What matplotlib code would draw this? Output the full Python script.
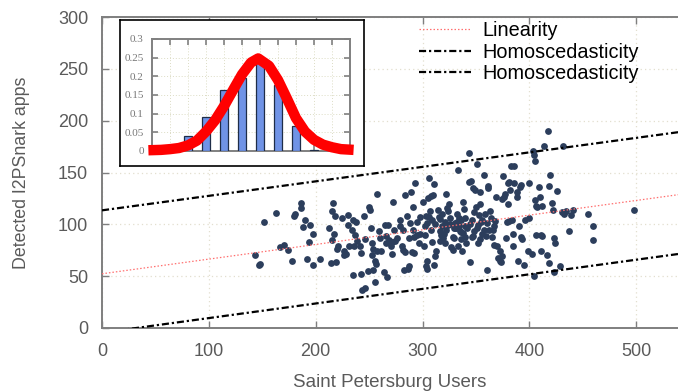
import matplotlib
matplotlib.use("Agg")
import matplotlib.pyplot as plt
import numpy as np

plt.rcParams['font.family'] = ['Liberation Sans', 'DejaVu Sans']

# ---------------- data ----------------
users = [143, 147, 148, 152, 163, 167, 170, 174, 178, 180, 181, 186, 186, 188, 190, 192, 194, 195, 197, 197,
         204, 212, 214, 215, 215, 216, 217, 218, 219, 220, 221, 225, 226, 226, 228, 230, 230, 231, 234, 235,
         235, 236, 237, 238, 239, 241, 242, 242, 243, 245, 246, 246, 249, 250, 251, 252, 253, 253, 254, 254,
         255, 255, 256, 257, 257, 259, 260, 261, 264, 265, 266, 266, 267, 268, 269, 270, 271, 271, 272, 273,
         274, 276, 279, 279, 281, 282, 282, 283, 284, 284, 285, 286, 287, 287, 288, 289, 290, 291, 291, 292,
         292, 293, 295, 295, 297, 298, 298, 300, 301, 302, 302, 303, 303, 304, 304, 305, 306, 306, 307, 308,
         309, 309, 310, 311, 311, 312, 313, 314, 315, 316, 316, 317, 318, 319, 320, 321, 321, 322, 323, 324,
         324, 325, 326, 327, 328, 329, 329, 330, 331, 332, 333, 333, 334, 335, 336, 336, 337, 338, 339, 340,
         340, 341, 343, 343, 344, 345, 346, 347, 347, 348, 349, 350, 351, 351, 352, 353, 354, 354, 355, 356,
         357, 357, 358, 359, 360, 361, 361, 362, 363, 365, 366, 367, 367, 369, 370, 371, 372, 372, 373, 374,
         374, 375, 376, 377, 378, 379, 380, 380, 381, 381, 382, 383, 384, 385, 385, 386, 386, 388, 388, 389,
         390, 391, 392, 392, 393, 395, 396, 399, 400, 400, 402, 403, 404, 404, 405, 405, 406, 406, 407, 409,
         410, 411, 411, 412, 412, 414, 416, 417, 418, 418, 419, 421, 422, 423, 423, 424, 426, 429, 430, 431,
         432, 434, 437, 439, 441, 455, 459, 459, 498,
         318, 322, 326, 330, 334, 338, 342, 344, 348, 352, 356, 360, 312, 308, 304, 328, 336, 346, 354, 340,
         332, 316, 364, 368]
apps = [70, 61, 62, 102, 111, 78, 80, 75, 65, 108, 110, 121, 116, 97, 104, 67, 83, 99, 91, 61,
        67, 96, 63, 85, 113, 121, 91, 108, 64, 76, 79, 106, 74, 70, 71, 109, 99, 79, 95, 104,
        51, 79, 90, 102, 84, 79, 72, 52, 37, 108, 86, 39, 55, 117, 114, 96, 70, 82, 76, 56,
        44, 65, 62, 129, 74, 94, 87, 74, 54, 99, 82, 89, 49, 99, 85, 79, 71, 83, 122, 95,
        84, 87, 98, 104, 79, 95, 75, 56, 128, 73, 108, 57, 87, 60, 101, 131, 73, 95, 117, 88,
        72, 140, 102, 90, 82, 91, 107, 122, 79, 98, 90, 60, 108, 65, 57, 125, 145, 107, 113, 127,
        104, 83, 128, 61, 139, 69, 74, 114, 107, 105, 94, 90, 110, 87, 91, 102, 82, 129, 116, 113,
        99, 120, 106, 78, 75, 96, 87, 101, 96, 102, 152, 79, 106, 94, 93, 104, 74, 122, 115, 88,
        98, 82, 169, 141, 64, 142, 104, 89, 135, 112, 133, 117, 158, 96, 82, 109, 120, 131, 102, 91,
        148, 95, 110, 89, 56, 137, 135, 95, 113, 88, 95, 98, 80, 126, 79, 68, 65, 74, 64, 69,
        124, 147, 126, 129, 87, 102, 140, 120, 141, 103, 133, 156, 104, 79, 91, 156, 140, 126, 131, 65,
        98, 136, 88, 138, 86, 61, 104, 74, 140, 106, 71, 171, 50, 167, 161, 123, 90, 118, 117, 136,
        126, 74, 90, 118, 89, 176, 70, 190, 137, 63, 148, 121, 114, 87, 54, 82, 132, 60, 112, 176,
        110, 113, 94, 109, 114, 110, 98, 85, 114,
        98, 95, 100, 96, 98, 92, 96, 100, 94, 99, 104, 101, 100, 95, 101, 88, 86, 88, 86, 106,
        110, 84, 106, 103]

line_x = [0, 540]
linearity_y = [52.3, 128.7]
homo_upper_y = [113.5, 189.0]
homo_lower_y = [-4.5, 71.5]

x_ticks = [0, 100, 200, 300, 400, 500]
y_ticks = [0, 50, 100, 150, 200, 250, 300]

# inset histogram
bin_pos = [2, 3, 4, 5, 6, 7, 8, 9]
bin_freq = [0.040, 0.090, 0.164, 0.195, 0.250, 0.177, 0.066, 0.003]
curve_x = [-0.2, 0.5, 1.0, 1.5, 2.0, 2.5, 3.0, 3.5, 4.0, 4.5, 5.0, 5.5, 5.9, 6.5, 7.0, 7.5, 8.0, 8.5,
           9.0, 9.5, 10.0, 10.5, 11.2]
curve_y = [0.002, 0.003, 0.005, 0.008, 0.015, 0.028, 0.052, 0.082, 0.120, 0.163, 0.205, 0.237, 0.248,
           0.228, 0.190, 0.140, 0.088, 0.052, 0.030, 0.017, 0.010, 0.005, 0.003]
inset_yticks = [0, 0.05, 0.1, 0.15, 0.2, 0.25, 0.3]
inset_ytick_labels = ['0', '0.05', '0.1', '0.15', '0.2', '0.25', '0.3']

# ---------------- figure ----------------
W, H = 678, 392
fig = plt.figure(figsize=(W / 100, H / 100), dpi=100)

def fx(px):
    return px / W

def fy(py):
    return 1 - py / H

ax = fig.add_axes([fx(102), fy(328), 1 - fx(102), fy(17) - fy(328)])
spine_col = '#7f7f7f'
txt_col = '#5a5a5a'
grid_col = '#e2dfcf'

ax.set_xlim(0, 539)
ax.set_ylim(0, 300)
ax.set_xticks(x_ticks)
ax.set_yticks(y_ticks)
ax.grid(True, linestyle=(0, (1, 2.5)), color=grid_col, linewidth=0.9)
ax.set_axisbelow(True)
for s in ['left', 'bottom', 'top']:
    ax.spines[s].set_color(spine_col)
    ax.spines[s].set_linewidth(1.4)
ax.spines['right'].set_visible(False)
ax.tick_params(axis='both', direction='in', length=5, width=1, color=spine_col,
               labelsize=13, labelcolor=txt_col, top=True)
ax.tick_params(axis='x', pad=11)
ax.tick_params(axis='y', pad=10)

ax.scatter(users, apps, s=24, color='#2c3e5c', zorder=3, linewidths=0)

ax.plot(line_x, linearity_y, color='#ff7070', linestyle=(0, (1.2, 1.6)), linewidth=0.9,
        label='Linearity', zorder=4)
dd = (0, (3.2, 1.3, 1.0, 1.3))
ax.plot(line_x, homo_upper_y, color='black', linestyle=dd, linewidth=1.6,
        label='Homoscedasticity', zorder=4)
ax.plot(line_x, homo_lower_y, color='black', linestyle=dd, linewidth=1.6,
        label='Homoscedasticity', zorder=4)

leg = ax.legend(loc='upper left', bbox_to_anchor=(0.53, 1.025), frameon=False, fontsize=14.3,
                handlelength=2.6, handletextpad=0.6, labelspacing=0.12, borderaxespad=0.2)

ax.set_xlabel('Saint Petersburg Users', fontsize=13.5, color=txt_col, labelpad=10)
ax.set_ylabel('Detected I2PSnark apps', fontsize=12.8, color=txt_col, labelpad=20)

# ---------------- inset ----------------
box = fig.add_axes([fx(120), fy(166), fx(364) - fx(120), fy(20) - fy(166)], zorder=5)
box.set_xticks([])
box.set_yticks([])
box.set_facecolor('white')
for s in box.spines.values():
    s.set_color('black')
    s.set_linewidth(1.2)

ins = fig.add_axes([fx(152), fy(151), fx(350) - fx(152), fy(39) - fy(151)], zorder=6)
ins.set_xlim(0, 11)
ins.set_ylim(0, 0.3)
ins.set_xticks(list(range(1, 11)))
ins.set_xticklabels([])
ins.set_yticks(inset_yticks)
ins.set_yticklabels(inset_ytick_labels, family=['Liberation Serif', 'DejaVu Serif'])
ins.grid(True, linestyle=(0, (1, 2)), color='#dcdcc4', linewidth=0.7)
ins.set_axisbelow(True)
for s in ins.spines.values():
    s.set_color('#808080')
    s.set_linewidth(1.4)
ins.tick_params(axis='both', direction='in', length=4, width=1.2, color='#808080',
                labelsize=8, labelcolor='#777777', top=True, right=True, pad=6)
ins.bar(bin_pos, bin_freq, width=0.42, color='#7093e6', edgecolor='#1f2d48', linewidth=0.9, zorder=3)
ins.plot(curve_x, curve_y, color='red', linewidth=7.5, solid_capstyle='butt', zorder=4, clip_on=False)

fig.savefig('out.png', dpi=100)
